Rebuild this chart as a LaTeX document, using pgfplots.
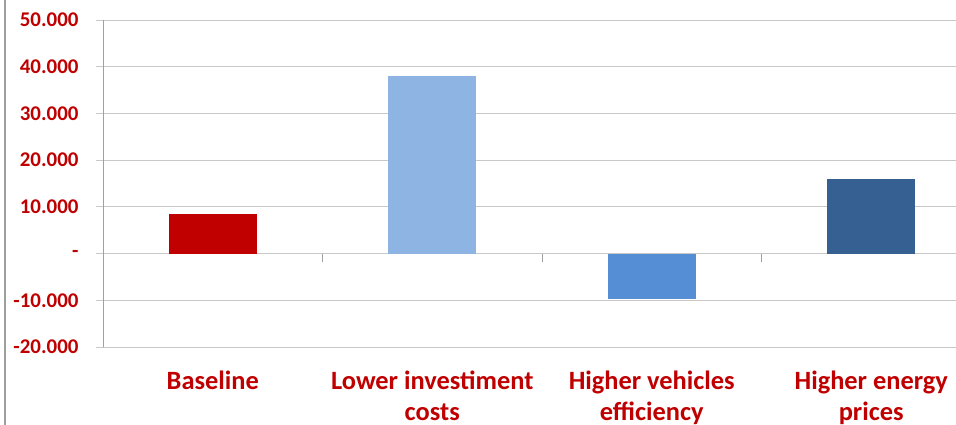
\documentclass[border=0pt]{standalone}
\usepackage{pgfplots}
\pgfplotsset{compat=1.18}
\usepackage{fontspec}
\setmainfont{Carlito}
\definecolor{txtred}{HTML}{C00000}
\definecolor{cbase}{HTML}{C00000}
\definecolor{clow}{HTML}{8EB4E3}
\definecolor{cveh}{HTML}{558ED5}
\definecolor{cene}{HTML}{376092}
\definecolor{gridc}{HTML}{C8C8C8}
\begin{document}
\begin{tikzpicture}[x=1bp,y=1bp]
\useasboundingbox (0,0) rectangle (956,424);
\clip (0,0) rectangle (956,424);
\fill[white] (0,0) rectangle (956,424);
\draw[gray!75, line width=2.5bp] (5,-2) -- (5,430);
\begin{axis}[
  at={(103bp,77bp)}, anchor=south west,
  scale only axis, width=878bp, height=327bp,
  xmin=-0.5, xmax=3.5, ymin=-20, ymax=50,
  axis x line*=bottom, x axis line style={draw=none},
  axis y line*=left, y axis line style={draw=gridc!80!black, line width=0.8bp},
  xtick={0,1,2,3},
  xticklabels={Baseline,{Lower investiment\\costs},{Higher vehicles\\efficiency},{Higher energy\\prices}},
  xtick style={draw=none},
  xticklabel style={align=center, font=\bfseries\fontsize{26.5}{32}\selectfont, text=txtred, anchor=north, yshift=-13bp},
  ytick={-20,-10,0,10,20,30,40,50},
  yticklabels={-20.000,-10.000,-,10.000,20.000,30.000,40.000,50.000},
  yticklabel style={font=\bfseries\fontsize{21}{24}\selectfont, text=txtred, xshift=-14bp},
  tick align=outside, major tick length=7bp,
  ytick style={draw=gridc, line width=1bp},
  ymajorgrids, major grid style={draw=gridc, line width=1bp},
  ybar, bar width=88bp,
]
\addplot[ybar, bar shift=0pt, fill=cbase, draw=none] coordinates {(0,8.5)};
\addplot[ybar, bar shift=0pt, fill=clow, draw=none] coordinates {(1,38.1)};
\addplot[ybar, bar shift=0pt, fill=cveh, draw=none] coordinates {(2,-9.8)};
\addplot[ybar, bar shift=0pt, fill=cene, draw=none] coordinates {(3,15.9)};
\draw[gridc!80!black, line width=0.8bp] (axis cs:0.5,0) -- ([yshift=-8bp]axis cs:0.5,0);
\draw[gridc!80!black, line width=0.8bp] (axis cs:1.5,0) -- ([yshift=-8bp]axis cs:1.5,0);
\draw[gridc!80!black, line width=0.8bp] (axis cs:2.5,0) -- ([yshift=-8bp]axis cs:2.5,0);
\end{axis}
\end{tikzpicture}
\end{document}
